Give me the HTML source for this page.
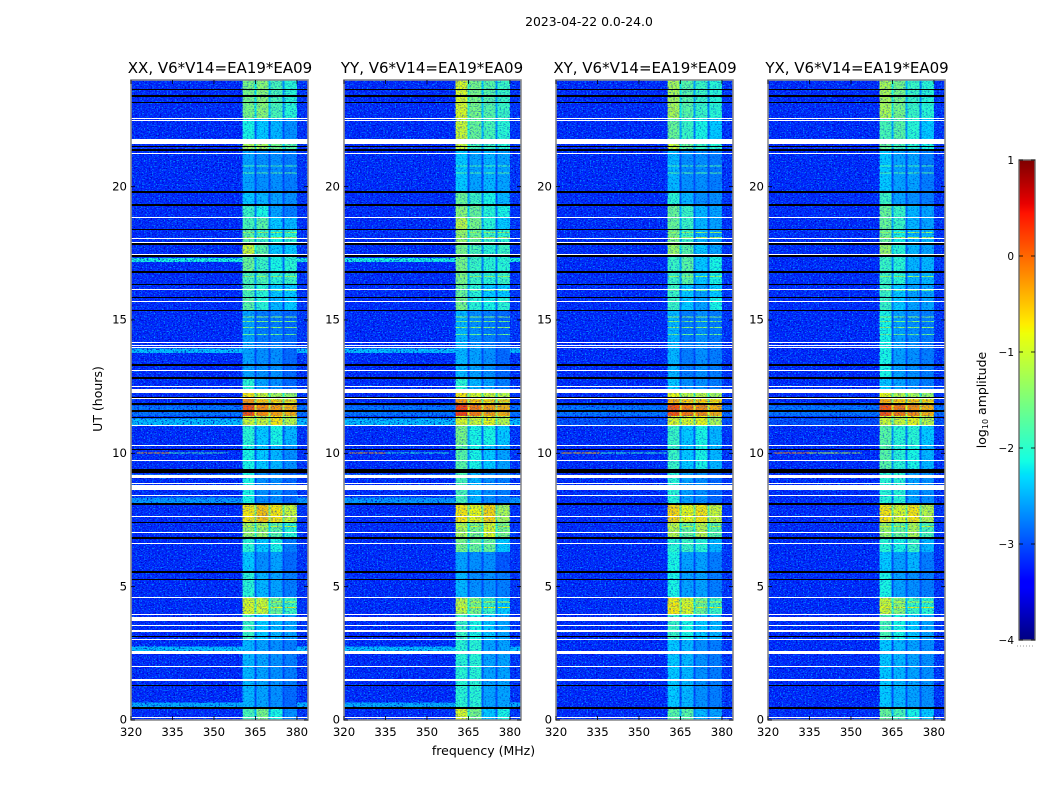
<!DOCTYPE html>
<html>
<head>
<meta charset="utf-8">
<title>2023-04-22 0.0-24.0</title>
<style>
html,body{margin:0;padding:0;background:#fff;width:1050px;height:800px;overflow:hidden}
svg{display:block}
text{font-family:"DejaVu Sans","Liberation Sans",sans-serif;fill:#000}
</style>
</head>
<body>
<svg id="chart" xmlns="http://www.w3.org/2000/svg" width="1050" height="800" viewBox="0 0 1050 800">
<defs>
<filter id="speckDark" x="0" y="0" width="100%" height="100%" color-interpolation-filters="sRGB">
<feTurbulence type="fractalNoise" baseFrequency=".53 .79" numOctaves="2" seed="4"/>
<feColorMatrix type="matrix" values="0 0 0 0 0  0 0 0 0 0  0 0 0 0 .75  3.8 0 0 0 -1.9"/>
</filter>
<filter id="speckLight" x="0" y="0" width="100%" height="100%" color-interpolation-filters="sRGB">
<feTurbulence type="fractalNoise" baseFrequency=".61 .83" numOctaves="2" seed="11"/>
<feColorMatrix type="matrix" values="0 0 0 0 0  0 0 0 0 .6  0 0 0 0 1  0 4.0 0 0 -2.1"/>
</filter>
</defs>
<text x="589" y="26" font-size="12.4" text-anchor="middle">2023-04-22 0.0-24.0</text>
<text x="483.5" y="755" font-size="12.5" text-anchor="middle">frequency (MHz)</text>
<text x="0" y="0" font-size="12.5" text-anchor="middle" transform="translate(102,399) rotate(-90)">UT (hours)</text>
<text x="0" y="0" font-size="12.5" text-anchor="middle" transform="translate(986,400) rotate(-90)">log<tspan font-size="8" dy="2">10</tspan><tspan dy="-2"> amplitude</tspan></text>
<g id="panels"></g>
<g id="cbar"></g>
</svg>
<script>
// ---- chart data (log10 amplitude, hours, MHz) ----
const panelNames = ["XX", "YY", "XY", "YX"];
const baselineLabel = "V6*V14=EA19*EA09";
const xTicks = [320, 335, 350, 365, 380];
const yTicks = [0, 5, 10, 15, 20];
const colorbarTicks = [-4, -3, -2, -1, 0, 1];
const bandEdgesMHz = [[360.4, 364.7], [365.4, 369.7], [370.4, 374.7], [375.5, 380]];
const backgroundLevel = -3.2;
const hourEdges = [0,.49,1.31,3,3.75,3.98,4.58,5.55,6.3,6.83,7.39,8.1,9.3,10.31,11.06,11.4,11.85,12.04,12.3,12.83,14.06,15.34,15.83,16.31,16.8,17.36,17.85,18.38,18.83,19.31,19.8,21.38,21.6,22.58,24];
const bandsXX = [[-1.8,-1.5,-2.1,-2.5],[-2.3,-2.4,-2.5,-2.7],[-2.3,-2.4,-2.5,-2.6],[-1.9,-2.2,-2.3,-2.4],[-1.9,-2.2,-2.3,-2.4],[-.9,-1,-1.6,-1.9],[-2,-2.3,-2.4,-2.6],[-2.2,-2.5,-2.4,-2.7],[-2,-2.2,-2.1,-2.6],[-1.3,-1.3,-1.7,-2],[-.7,-.5,-.7,-1],[-2.1,-2.5,-2.5,-2.7],[-2.1,-2.2,-2.3,-2.5],[-2,-2.2,-2.1,-2.3],[-1,-1,-.7,-1.1],[.1,-.2,-.3,-.4],[-.3,-.7,-.8,-.9],[-.7,-1,-1.2,-1.3],[-2,-2.4,-2.5,-2.7],[-2.4,-2.5,-2.5,-2.7],[-2.4,-2.6,-2.6,-2.7],[-1.7,-2,-2.3,-2.2],[-1.8,-2,-2.2,-2.2],[-1.8,-1.8,-2,-1.9],[-1.6,-1.9,-2.1,-2],[-1,-1.7,-2.2,-2.2],[-1.7,-1.9,-2.1,-2],[-1.8,-1.7,-2.2,-2.3],[-1.9,-2.1,-2.4,-2.6],[-2.2,-2.3,-2.4,-2.5],[-2.4,-2.5,-2.5,-2.6],[-1.2,-1.2,-1.5,-1.7],[-2.1,-2.2,-2.3,-2.5],[-1.5,-1.4,-1.8,-2]];
const bandsYY = [[-.9,-1.5,-2.2,-2.1],[-2,-2,-2.4,-2.4],[-2,-2,-2.4,-2.4],[-1.9,-2.1,-2.2,-2.4],[-1.9,-2.1,-2.2,-2.4],[-1.1,-1.5,-1.9,-2.2],[-2.3,-2.5,-2.5,-2.6],[-2.4,-2.5,-2.5,-2.8],[-1.5,-1.6,-1.6,-2.2],[-1.2,-1.5,-.9,-1.5],[-.7,-.8,-.6,-1.2],[-1.8,-2.3,-2.5,-2.6],[-1.7,-2.1,-2.2,-2.4],[-1.5,-2.1,-2.1,-2.2],[-.9,-1,-.8,-1.1],[.2,-.1,-.3,-.4],[-.4,-.7,-.8,-.9],[-.7,-.9,-1,-1.1],[-2,-2.3,-2.4,-2.6],[-2.3,-2.4,-2.5,-2.7],[-2.3,-2.5,-2.6,-2.7],[-1.5,-2,-2.1,-2],[-1.6,-2,-2.2,-2.2],[-1.5,-1.9,-2,-1.9],[-1.5,-1.9,-2,-2],[-1.5,-1.8,-2,-1.9],[-1.3,-1.6,-1.9,-2],[-1.1,-1.5,-2,-2.2],[-1.4,-1.6,-2,-2.1],[-1.6,-1.9,-2.1,-2.3],[-2.2,-2.4,-2.3,-2.4],[-1,-1.8,-1.9,-2],[-1,-1.6,-1.8,-2],[-.9,-1.5,-1.7,-1.9]];
const bandsXY = [[-1.7,-1.7,-2.3,-2.4],[-2.2,-2.3,-2.5,-2.6],[-2.2,-2.3,-2.5,-2.6],[-1.9,-2.1,-2.2,-2.3],[-1.9,-2.1,-2.2,-2.3],[-.7,-.9,-1.6,-1.9],[-2.1,-2.4,-2.4,-2.6],[-2.1,-2.4,-2.4,-2.6],[-2,-1.9,-2,-2.3],[-1.1,-1.6,-1.1,-1.7],[-.6,-.8,-.7,-1],[-2,-2.4,-2.5,-2.7],[-1.9,-2.2,-2.1,-2.3],[-1.9,-2.2,-2.1,-2.3],[-.9,-.9,-.8,-1.2],[.1,-.1,-.2,-.4],[-.5,-.7,-.7,-.8],[-.8,-1.1,-1.1,-1.2],[-2.2,-2.5,-2.5,-2.6],[-2.3,-2.6,-2.5,-2.6],[-2.3,-2.6,-2.5,-2.6],[-1.9,-2.2,-2.4,-2.1],[-1.9,-2.2,-2.4,-2.2],[-1.9,-1.7,-2.2,-2.1],[-1.9,-1.7,-2.2,-2.1],[-1.3,-1.7,-2.2,-2.4],[-1.5,-1.9,-2.3,-2.4],[-1.6,-1.9,-2.3,-2.4],[-1.6,-1.9,-2.3,-2.4],[-2,-2.3,-2.5,-2.5],[-2.3,-2.5,-2.5,-2.6],[-1,-1.6,-1.9,-2],[-1.6,-1.9,-2.1,-2.2],[-1.2,-1.7,-1.9,-2]];
const bandsYX = [[-1.6,-1.8,-2.1,-2.2],[-2.2,-2.3,-2.4,-2.5],[-2.2,-2.3,-2.4,-2.5],[-1.8,-2.1,-2.2,-2.4],[-1.8,-2.1,-2.2,-2.4],[-1,-1.4,-1.9,-2],[-2.1,-2.4,-2.5,-2.6],[-2.2,-2.4,-2.3,-2.6],[-2,-2.1,-1.9,-2.3],[-1.3,-1.6,-1.2,-1.8],[-.7,-.9,-.7,-1.1],[-2,-2,-2.4,-2.5],[-1.7,-2,-2.1,-2.3],[-1.7,-2,-2,-2.2],[-1,-1,-.8,-1.1],[.1,-.1,-.2,-.4],[-.5,-.7,-.7,-.8],[-.8,-1.1,-1.2,-1.3],[-2.2,-2.4,-2.5,-2.6],[-2.1,-2.4,-2.5,-2.6],[-2.1,-2.4,-2.5,-2.6],[-1.9,-2.2,-2.4,-2.4],[-1.9,-2.2,-2.4,-2.4],[-1.9,-2,-2.3,-2.3],[-1.9,-2,-2.3,-2.3],[-1.3,-2,-2.3,-2.4],[-1.6,-2.1,-2.3,-2.3],[-1.6,-1.9,-2.3,-2.4],[-1.6,-1.9,-2.3,-2.4],[-1.9,-2.4,-2.5,-2.6],[-2.2,-2.4,-2.4,-2.6],[-1.6,-1.8,-2,-2.1],[-1.8,-1.7,-2,-2.2],[-1.2,-1.5,-1.9,-2]];
// broadband strips outside the bands: [panel, hour start, hour end, level]
const broadbandStrips = [[0,.49,.65,-2.5],[1,.49,.65,-2.5],[0,2.55,2.75,-2.4],[1,2.55,2.75,-2.4],[0,8.1,8.35,-2.6],[1,8.1,8.35,-2.6],[0,9.07,9.2,-2.5],[1,9.07,9.2,-2.5],[0,11.06,11.3,-2.4],[1,11.06,11.3,-2.4],[2,11.06,11.3,-3],[3,11.06,11.3,-3],[0,11.4,11.8,-2.8],[1,11.4,11.8,-2.8],[2,11.4,11.8,-2.8],[3,11.4,11.8,-2.8],[0,13.77,13.93,-2.4],[1,13.77,13.93,-2.4],[0,17.18,17.33,-2.1],[1,17.18,17.33,-2.1]];
// narrow streaks across the four bands: [hour, level]
const bandStreaks = [[15.09,-1.4],[14.93,-1.5],[14.7,-1.4],[14.44,-1.6],[16.61,-1.3],[18.08,-1.2],[18.26,-1.3],[16.09,-1.6],[21.23,-1.7],[20.75,-1.8],[20.5,-1.7],[12.28,-.4],[11.94,-.2],[7.24,-1],[4.2,-.8],[4.4,-1]];
// interference segment: [panel, hour, MHz start, MHz end, level]
const rfiSegments = [[0,10,322,334,-.3],[0,10,334,355,-1.8],[1,10,322,335,-.3],[1,10,335,358,-2],[2,10,322,336,-.4],[2,10,336,360,-1.9],[3,10,322,335,-.2],[3,10,335,354,-1.1]];
// flagged (missing) rows as [hour start, hour end]
const whiteRows = [[.08,.12],[1.45,1.52],[2.0,2.04],[2.47,2.58],[3.01,3.05],[3.31,3.38],[3.52,3.56],[3.71,3.88],[3.93,3.97],[4.58,4.62],[6.6,6.64],[7.01,7.05],[7.62,7.66],[8.41,8.45],[8.63,8.81],[8.85,8.89],[9.08,9.17],[9.72,9.76],[10.28,10.32],[11.03,11.07],[12.02,12.06],[12.28,12.41],[12.47,12.51],[13.09,13.13],[13.94,13.98],[14.04,14.08],[14.14,14.18],[15.69,15.73],[16.13,16.17],[17.4,17.49],[17.88,17.92],[18.02,18.06],[18.83,18.87],[21.24,21.28],[21.6,21.79],[22.47,22.51],[22.55,22.59]];
const blackRows = [[.4,.5],[1.29,1.33],[3.1,3.16],[5.26,5.3],[5.52,5.58],[6.8,6.86],[7.37,7.41],[8.08,8.14],[9.28,9.34],[9.35,9.4],[10.12,10.16],[11.33,11.37],[11.55,11.61],[11.83,11.87],[12.07,12.1],[12.8,12.86],[13.29,13.35],[15.33,15.39],[15.82,15.86],[16.3,16.36],[16.77,16.83],[17.36,17.42],[17.83,17.87],[18.36,18.42],[19.29,19.35],[19.77,19.83],[21.34,21.42],[21.5,21.54],[23.12,23.16],[23.38,23.42],[23.64,23.68]];

// ---- jet colormap ----
const jetR = [[0,0],[.35,0],[.66,1],[.89,1],[1,.5]];
const jetG = [[0,0],[.125,0],[.375,1],[.64,1],[.91,0],[1,0]];
const jetB = [[0,.5],[.11,1],[.34,1],[.65,0],[1,0]];
function lerpStops(stops, t){
  for(let i=1;i<stops.length;i++){
    if(t<=stops[i][0]){
      const a=stops[i-1], b=stops[i];
      return a[1]+(b[1]-a[1])*(t-a[0])/(b[0]-a[0]);
    }
  }
  return stops[stops.length-1][1];
}
const vMin=-4, vMax=1;
function jet(v){
  const t=Math.max(0,Math.min(1,(v-vMin)/(vMax-vMin)));
  return "rgb("+Math.round(lerpStops(jetR,t)*255)+","+Math.round(lerpStops(jetG,t)*255)+","+Math.round(lerpStops(jetB,t)*255)+")";
}
// the faint bands are mottled in the reference, so their mean sits a little lower
function bandTone(v){ return v<=-2.2 ? v-.15 : v; }

// ---- layout and scales ----
const NS="http://www.w3.org/2000/svg";
const plotTop=80, plotBottom=720, plotWidth=177;
const plotLefts=[131,344,556,768];
const freqMin=320, freqMax=384, hourMax=24;
function xScale(left,f){ return left+(f-freqMin)/(freqMax-freqMin)*plotWidth; }
function yScale(h){ return plotBottom-h/hourMax*(plotBottom-plotTop); }
function node(tag,attrs,parent){
  const el=document.createElementNS(NS,tag);
  for(const k in attrs) el.setAttribute(k,attrs[k]);
  parent.appendChild(el);
  return el;
}
function cell(parent,left,f0,f1,h0,h1,v,name){
  const r=node("rect",{x:xScale(left,f0).toFixed(2),y:yScale(h1).toFixed(2),width:(xScale(left,f1)-xScale(left,f0)).toFixed(2),height:(yScale(h0)-yScale(h1)).toFixed(2),fill:jet(v),"shape-rendering":"crispEdges"},parent);
  
  
  return r;
}
function speckle(parent,left,f0,f1,opacity){
  const x0=xScale(left,f0), w=xScale(left,f1)-x0;
  const dark=node("rect",{x:x0,y:plotTop,width:w,height:plotBottom-plotTop,fill:"#000",filter:"url(#speckDark)",opacity:opacity},parent);
  
  
  const light=node("rect",{x:x0,y:plotTop,width:w,height:plotBottom-plotTop,fill:"#000",filter:"url(#speckLight)",opacity:opacity},parent);
  
  
}
function flagRow(parent,left,r,color,name){
  const top=Math.round(yScale(r[1]));
  const bottom=Math.round(yScale(r[0]));
  const el=node("rect",{x:left,y:top,width:plotWidth,height:Math.max(1,bottom-top),fill:color,"shape-rendering":"crispEdges"},parent);
  
  
}

const panelBands=[bandsXX,bandsYY,bandsXY,bandsYX];
const panelsRoot=document.getElementById("panels");
panelNames.forEach(function(pol,p){
  const left=plotLefts[p];
  const g=node("g",{},panelsRoot);
  
  
  const levels=panelBands[p];
  levels.forEach(function(row,i){
    const h0=hourEdges[i], h1=hourEdges[i+1];
    cell(g,left,freqMin,bandEdgesMHz[0][0],h0,h1,backgroundLevel,'heatmap-cell');
    row.forEach(function(v,b){
      cell(g,left,bandEdgesMHz[b][0],bandEdgesMHz[b][1],h0,h1,bandTone(v),'heatmap-cell');
      if(b<3){
        const gap=Math.max(backgroundLevel+.2,(v+row[b+1])/2-.75);
        cell(g,left,bandEdgesMHz[b][1],bandEdgesMHz[b+1][0],h0,h1,gap,'heatmap-cell');
      }
    });
    cell(g,left,bandEdgesMHz[3][1],freqMax,h0,h1,backgroundLevel+.05,'heatmap-cell');
  });
  broadbandStrips.filter(function(s){return s[0]===p;}).forEach(function(s){
    cell(g,left,freqMin,bandEdgesMHz[0][0],s[1],s[2],s[3],'broadband-strip');
    cell(g,left,bandEdgesMHz[3][1],freqMax,s[1],s[2],s[3],'broadband-strip');
  });
  bandStreaks.forEach(function(s){
    bandEdgesMHz.forEach(function(b){
      cell(g,left,b[0],b[1],s[0],s[0]+.04,s[1],'band-streak');
    });
  });
  rfiSegments.filter(function(s){return s[0]===p;}).forEach(function(s){
    cell(g,left,s[2],s[3],s[1],s[1]+.04,s[4],'rfi-streak');
  });
  // receiver speckle texture, decoration only; weaker across the bright bands
  speckle(g,left,freqMin,bandEdgesMHz[0][0],1);
  speckle(g,left,bandEdgesMHz[0][0],bandEdgesMHz[3][1],.5);
  speckle(g,left,bandEdgesMHz[3][1],freqMax,1);
  whiteRows.forEach(function(r){
    flagRow(g,left,r,"#fff",'flagged-row-white');
  });
  blackRows.forEach(function(r){
    flagRow(g,left,r,"#000",'flagged-row-black');
  });
  const frame=node("rect",{x:left,y:plotTop,width:plotWidth,height:plotBottom-plotTop,fill:"none",stroke:"#8c8c8c","stroke-width":1.6},g);
  
  
  const title=node("text",{x:left+plotWidth/2+(p===1?-.5:.5),y:73,"font-size":15,"text-anchor":"middle"},g);
  title.textContent=pol+", "+baselineLabel;
  
  
  xTicks.forEach(function(t){
    const x=xScale(left,t);
    const a=node("line",{x1:x,x2:x,y1:plotBottom,y2:plotBottom-4,stroke:"#000","stroke-width":.8},g);
    
    
    const b=node("line",{x1:x,x2:x,y1:plotTop,y2:plotTop+4,stroke:"#000","stroke-width":.8},g);
    
    
    const lab=node("text",{x:x,y:736,"font-size":11.7,"text-anchor":"middle"},g);
    lab.textContent=String(t);
    
    
  });
  yTicks.forEach(function(t){
    const y=yScale(t);
    const a=node("line",{x1:left,x2:left+4,y1:y,y2:y,stroke:"#000","stroke-width":.8},g);
    
    
    const b=node("line",{x1:left+plotWidth,x2:left+plotWidth-4,y1:y,y2:y,stroke:"#000","stroke-width":.8},g);
    
    
    const lab=node("text",{x:left-4,y:y+3.7,"font-size":11.7,"text-anchor":"end"},g);
    lab.textContent=String(t);
    
    
  });
});

// ---- colorbar ----
const cbarRoot=document.getElementById("cbar");
const cbLeft=1019, cbWidth=16, cbTop=160, cbBottom=640;
function cbY(v){ return cbBottom-(v-vMin)/(vMax-vMin)*(cbBottom-cbTop); }
const cbSteps=240;
for(let i=0;i<cbSteps;i++){
  const v0=vMin+(vMax-vMin)*i/cbSteps, v1=vMin+(vMax-vMin)*(i+1)/cbSteps;
  const s=node("rect",{x:cbLeft,y:cbY(v1).toFixed(2),width:cbWidth,height:(cbY(v0)-cbY(v1)+.3).toFixed(2),fill:jet((v0+v1)/2),"shape-rendering":"crispEdges"},cbarRoot);
  
  
}
const cbFrame=node("rect",{x:cbLeft,y:cbTop,width:cbWidth,height:cbBottom-cbTop,fill:"none",stroke:"#6a6a6a","stroke-width":1.4},cbarRoot);


colorbarTicks.forEach(function(t){
  const y=cbY(t);
  const l=node("line",{x1:cbLeft,x2:cbLeft+4,y1:y,y2:y,stroke:"#000","stroke-width":.8},cbarRoot);
  
  
  const r=node("line",{x1:cbLeft+cbWidth-4,x2:cbLeft+cbWidth,y1:y,y2:y,stroke:"#000","stroke-width":.8},cbarRoot);
  
  
  const lab=node("text",{x:1014,y:y+4,"font-size":10.5,"text-anchor":"end"},cbarRoot);
  lab.textContent=(t<0?"\u2212":"")+Math.abs(t);
  
  
});
const dots=node("line",{x1:1017,x2:1035,y1:646,y2:646,stroke:"#999","stroke-width":1,"stroke-dasharray":"1 2"},cbarRoot);


</script>
</body>
</html>
